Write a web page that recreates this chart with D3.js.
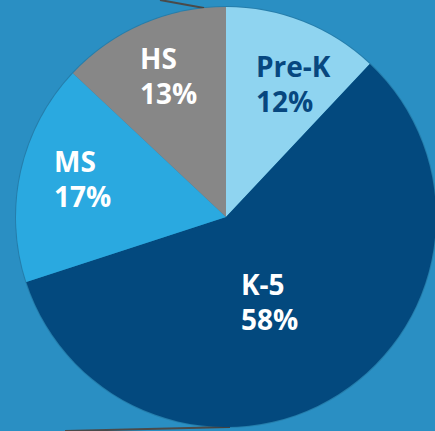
<!DOCTYPE html>
<html>
<head>
<meta charset="utf-8">
<script src="https://cdn.jsdelivr.net/npm/d3@7"></script>
<style>
html,body{margin:0;padding:0;background:#2a8fc3;overflow:hidden;}
svg{display:block;}
</style>
</head>
<body>
<svg id="chart" width="435" height="431"></svg>
<script>
const categories = ["Pre-K", "K-5", "MS", "HS"];
const values = [12, 58, 17, 13];
const labels = ["12%", "58%", "17%", "13%"];
const colors = ["#8fd4f0", "#03497e", "#2aa9e0", "#878787"];
const textColors = ["#07477f", "#ffffff", "#ffffff", "#ffffff"];
// label anchor (left x, first baseline) for each slice
const labelPos = [[256, 77], [241, 295], [54, 172], [140, 69]];

const svg = d3.select("#chart");
const W = 435, H = 431;
svg.append("rect").attr("width", W).attr("height", H).attr("fill", "#2a8fc3");

// decorative frame edges
svg.append("path").attr("d", "M160,0 L204,8").attr("stroke", "#4a4a4a").attr("stroke-width", 2).attr("fill", "none");
svg.append("path").attr("d", "M65,431 L230,427").attr("stroke", "#4a4a4a").attr("stroke-width", 2).attr("fill", "none");

const cx = 226, cy = 217, r = 210;
const pie = d3.pie().value(d => d).sort(null);
const arc = d3.arc().innerRadius(0).outerRadius(r);
const arcs = pie(values);

const g = svg.append("g").attr("transform", `translate(${cx},${cy})`);
g.append("circle").attr("r", r + 1).attr("fill", "rgba(0,0,0,0.12)");
g.selectAll("path.slice").data(arcs).enter().append("path")
  .attr("class", "slice")
  .attr("d", arc)
  .attr("fill", (d, i) => colors[i]);

const t = svg.selectAll("text.lbl").data(arcs).enter().append("text")
  .attr("class", "lbl")
  .attr("x", (d, i) => labelPos[i][0])
  .attr("y", (d, i) => labelPos[i][1])
  .attr("fill", (d, i) => textColors[i])
  .attr("font-family", "'Open Sans', sans-serif")
  .attr("font-weight", 700)
  .attr("font-size", 28);
t.append("tspan").text((d, i) => categories[i]);
t.append("tspan")
  .attr("x", (d, i) => labelPos[i][0])
  .attr("dy", 35)
  .text((d, i) => labels[i]);
</script>
</body>
</html>
